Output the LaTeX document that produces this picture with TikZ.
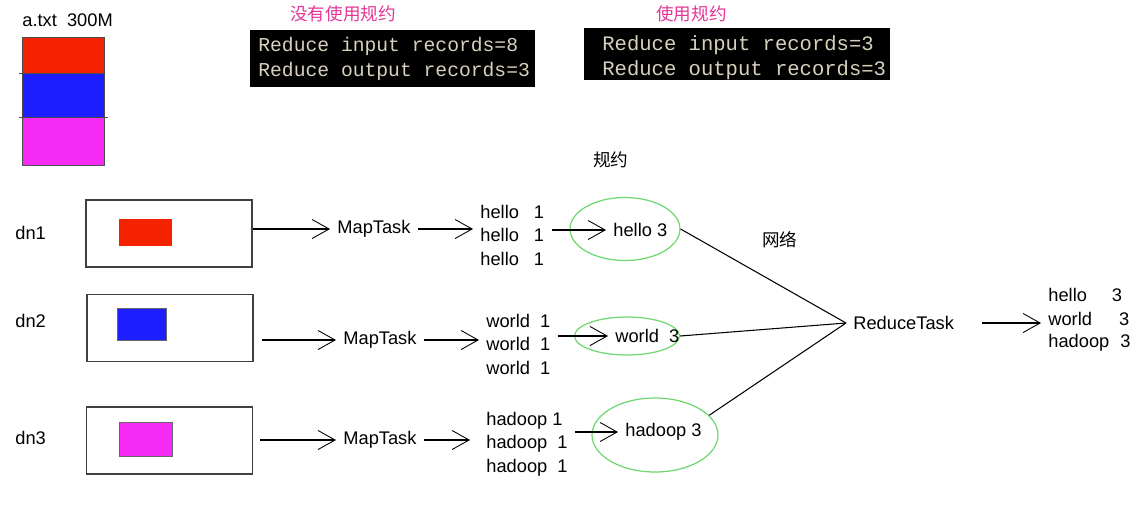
\documentclass[tikz,border=0pt]{standalone}
\usepackage{fontspec}
\setmainfont{Liberation Sans}
\setmonofont{Liberation Mono}
\newfontfamily\cjk{Noto Sans CJK SC}
\usepackage{xcolor}
\usetikzlibrary{arrows.meta,shapes.geometric}

\definecolor{blockred}{RGB}{245,34,0}
\definecolor{blockblue}{RGB}{28,30,255}
\definecolor{blockpink}{RGB}{245,42,245}
\definecolor{notepink}{RGB}{228,52,150}
\definecolor{ringgreen}{RGB}{110,215,110}
\definecolor{consoletext}{RGB}{215,208,188}

\begin{document}
\begin{tikzpicture}[x=0.02cm,y=-0.02cm,
  lbl/.style={anchor=west,inner xsep=4pt,inner ysep=1pt,font=\fontsize{10.4}{12}\selectfont},
  note/.style={anchor=west,inner sep=0pt,font=\cjk\fontsize{10}{12}\selectfont},
  host/.style={draw=black!75,line width=0.7pt,minimum width=3.32cm,minimum height=1.34cm},
  flow/.style={-{Straight Barb[length=0.34cm,width=0.38cm,line width=0.5pt]},line width=0.6pt},
  ring/.style={ellipse,draw=ringgreen,line width=0.7pt},
  console/.style={fill=black,anchor=north west},
  consoletxt/.style={anchor=west,inner sep=0pt,align=left,text=consoletext}]
\useasboundingbox (0,0) rectangle (1147,522);

% file and its blocks
\node[lbl] (file) at (15,20) {a.txt\ \ 300M};
\draw[fill=blockred,draw=black!70] (22,37) rectangle (104,73);
\draw[fill=blockblue,draw=black!70] (22,73) rectangle (104,117);
\draw[fill=blockpink,draw=black!70] (22,117) rectangle (104,165);
\draw[black!70] (19,73) -- (105,73);
\draw[black!70] (19,117) -- (108,117);

% counters
\node[note,text=notepink] (plainnote) at (290,14) {没有使用规约};
\node[console,minimum width=5.7cm,minimum height=1.14cm] (plainbox) at (250,30) {};
\node[consoletxt,font=\ttfamily\fontsize{11.2}{14.2}\selectfont] (plain) at (258,58.5)
  {Reduce input records=8\\Reduce output records=3};
\node[note,text=notepink] (combnote) at (656,14) {使用规约};
\node[console,minimum width=6.12cm,minimum height=1.04cm] (combbox) at (584,28) {};
\node[consoletxt,font=\ttfamily\fontsize{11.7}{14.2}\selectfont] (comb) at (602,57.5)
  {Reduce input records=3\\Reduce output records=3};

\node[note] (combine) at (593,160) {规约};
\node[note] (net) at (762,240) {网络};

% dn1
\node[lbl] (dn1) at (8,233) {dn1};
\node[host] (host1) at (169,233.5) {};
\draw[fill=blockred,draw=none] (119,219) rectangle (172,246);
\node[lbl] (map1) at (330,229) {MapTask};
\node[lbl] (h1) at (473,212) {hello\hspace{0.3cm}1};
\node[lbl] (h2) at (473,235) {hello\hspace{0.3cm}1};
\node[lbl] (h3) at (473,259) {hello\hspace{0.3cm}1};
\node[ring,minimum width=2.2cm,minimum height=1.26cm] (r1) at (625,229) {};
\node[lbl] (s1) at (606,230) {hello 3};
\draw[flow] (host1.east |- map1.west) -- (map1.west);
\draw[flow] (map1.east) -- (map1.east -| h2.west);
\draw[flow] (h2.east |- s1.west) -- (s1.west);

% dn2
\node[lbl] (dn2) at (8,321) {dn2};
\node[host] (host2) at (170,328) {};
\draw[fill=blockblue,draw=black!60] (117,308) rectangle (166,340);
\node[lbl] (map2) at (336,340) {MapTask};
\node[lbl] (w1) at (479,321) {world\hspace{0.2cm}1};
\node[lbl] (w2) at (479,344) {world\hspace{0.2cm}1};
\node[lbl] (w3) at (479,368) {world\hspace{0.2cm}1};
\node[ring,minimum width=2.1cm,minimum height=0.76cm] (r2) at (627,336) {};
\node[lbl] (s2) at (608,336) {world\ \ 3};
\draw[flow,shorten <=5pt] (host2.east |- map2.west) -- (map2.west);
\draw[flow] (map2.east) -- (map2.east -| w2.west);
\draw[flow] (w2.east |- s2.west) -- (s2.west);

% dn3
\node[lbl] (dn3) at (8,438) {dn3};
\node[host] (host3) at (169.5,440.5) {};
\draw[fill=blockpink,draw=black!60] (119,422) rectangle (172,456);
\node[lbl] (map3) at (336,440) {MapTask};
\node[lbl] (d1) at (479,421) {hadoop 1};
\node[lbl] (d2) at (479,444) {hadoop\ \ 1};
\node[lbl] (d3) at (479,468) {hadoop\ \ 1};
\node[ring,minimum width=2.52cm,minimum height=1.48cm] (r3) at (655,435) {};
\node[lbl] (s3) at (618,432) {hadoop 3};
\draw[flow,shorten <=4pt] (host3.east |- map3.west) -- (map3.west);
\draw[flow] (map3.east) -- ([xshift=-0.18cm]map3.east -| d2.west);
\draw[flow] (d2.east |- s3.west) -- (s3.west);

% reduce
\node[lbl] (reduce) at (846,323) {ReduceTask};
\draw[line width=0.6pt] (r1.east) -- (reduce.west);
\draw[line width=0.6pt] (r2.east) -- (reduce.west);
\draw[line width=0.6pt] (r3.20) -- (reduce.west);
\node[lbl] (o1) at (1041,295) {hello\hspace{0.5cm}3};
\node[lbl] (o2) at (1041,319) {world\hspace{0.54cm}3};
\node[lbl] (o3) at (1041,343) {hadoop\hspace{0.22cm}3};
\draw[flow,shorten <=0.42cm] (reduce.east) -- (reduce.east -| o2.west);
\end{tikzpicture}
\end{document}
